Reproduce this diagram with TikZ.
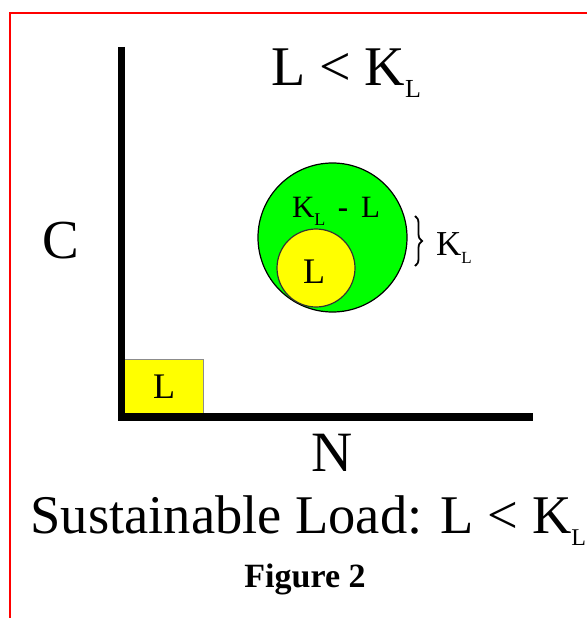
\documentclass[tikz,border=0pt]{standalone}
\usepackage{fontspec}
\setmainfont{Liberation Serif}
\usetikzlibrary{decorations.pathreplacing}
\definecolor{grn}{RGB}{0,255,0}
\definecolor{ylw}{RGB}{255,255,0}
\definecolor{redb}{RGB}{255,0,0}
\newcommand{\fsz}[1]{\fontsize{#1}{#1}\selectfont}
\newcommand{\lowsub}[3]{\raisebox{-#1pt}{\fsz{#2}#3}}
\tikzset{
  txt/.style={inner sep=0pt, outer sep=0pt},
  axisline/.style={line width=7.5pt, line join=miter},
  frameline/.style={redb, line width=2pt},
  bigcirc/.style={circle, draw=black, line width=1.2pt, fill=grn, inner sep=0pt},
  smallcirc/.style={circle, draw=black!80, line width=1.2pt, fill=ylw, inner sep=0pt},
  sqbox/.style={rectangle, draw=black!45, line width=0.8pt, fill=ylw, inner sep=0pt},
  bracepath/.style={decorate, decoration={brace, amplitude=7pt}, line width=1.8pt}
}
\begin{document}
\begin{tikzpicture}[x=1pt,y=-1pt]
\useasboundingbox (0,0) rectangle (587,618);
% red frame
\coordinate (fbl) at (10,618);
\coordinate (ftl) at (10,13);
\coordinate (ftr) at (587,13);
\draw[frameline] (fbl) -- (ftl) -- (ftr);
% yellow square (behind axes)
\node[sqbox, minimum width=79pt, minimum height=55pt] (sq) at (164,386.5) {};
\node[txt, font=\fsz{36}] (sqL) at (164,386.5) {L};
% axes
\coordinate (ytop) at (121.5,47);
\coordinate (orig) at (121.5,417);
\coordinate (xend) at (533,417);
\draw[axisline] (ytop) -- (orig) -- (xend);
% circles
\node[bigcirc, minimum size=149pt] (big) at (332.5,237.5) {};
\node[smallcirc, minimum size=78pt] (small) at (316,268) {};
\node[txt, font=\fsz{36}, anchor=base] (smallL) at (314,283) {L};
\node[txt, font=\fsz{31}, anchor=base west] (kml) at (292,217)
  {K\lowsub{8}{18}{L}\hspace{12.5pt}\textbf{-}\hspace{13pt}L};
% brace and K_L
\coordinate (bt) at (415,216);
\coordinate (bb) at (415,266);
\draw[bracepath] (bt) -- (bb);
\node[txt, font=\fsz{35}, anchor=base west] (kl) at (436,255) {K\lowsub{8}{17}{L}};
% title
\node[txt, font=\fsz{56}, anchor=base west] (title) at (271,85) {L < K\lowsub{12}{26}{L}};
% axis labels
\node[txt, font=\fsz{55}, anchor=base] (clab) at (61,258) {C};
\node[txt, font=\fsz{57}, anchor=base] (nlab) at (332.5,471) {N};
% caption
\node[txt, font=\fsz{54.5}, anchor=base west] (cap) at (30.5,533) {Sustainable Load: L < K\lowsub{12}{24}{L}};
\node[txt, font=\fsz{34}\bfseries, anchor=base] (fig) at (305,587) {Figure 2};
\end{tikzpicture}
\end{document}
